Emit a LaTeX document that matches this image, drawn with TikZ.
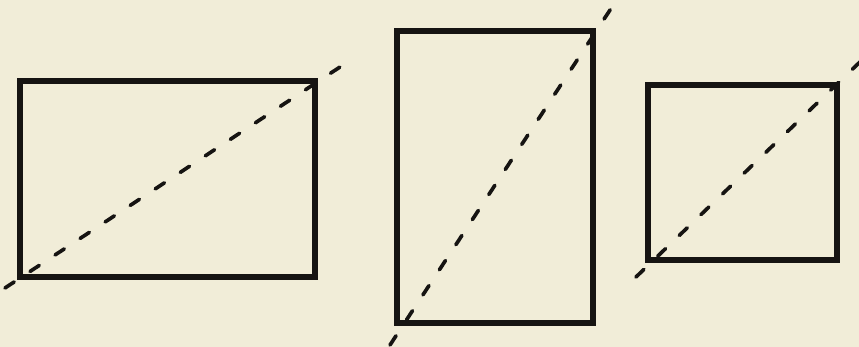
\documentclass[tikz,border=0pt]{standalone}
\usepackage{tikz}
\usepackage{xcolor}
\usetikzlibrary{positioning,calc}
\definecolor{paper}{RGB}{241,237,216}
\definecolor{ink}{RGB}{22,20,18}
\tikzset{
	box/.style={draw=ink,line width=0.18cm,rectangle,inner sep=0pt,outer sep=0pt,anchor=center,fill=none},
	diag/.style={draw=ink,line width=0.11cm,line cap=round,dash pattern=on 0.33cm off 0.57cm},
}

\begin{document}
\begin{tikzpicture}[x=0.03cm,y=-0.03cm]
				
				% Background
				\fill[paper] (0,0) rectangle (859,347);
				\useasboundingbox (0,0) rectangle (859,347);
				
				% First Box (wide)
				\node[box,minimum width=8.85cm,minimum height=5.88cm] (wide) at (167.5,179) {};
				\coordinate (wideA) at (5,288);
				\coordinate (wideB) at (340,67);
				
				% Second Box (tall)
				\node[box,minimum width=5.88cm,minimum height=8.76cm] (tall) at (495,177) {};
				\coordinate (tallA) at (390,345);
				\coordinate (tallB) at (612,7);
				
				% Third Box (square)
				\node[box,minimum width=5.67cm,minimum height=5.25cm] (square) at (742.5,172.5) {};
				\coordinate (squareA) at (636,277);
				\coordinate (squareB) at (862,60);
				
				% Draw diagonals
				\draw[diag] (wideA) -- (wideB);
				\draw[diag] (tallA) -- (tallB);
				\draw[diag] (squareA) -- (squareB);
			\end{tikzpicture}
\end{document}
